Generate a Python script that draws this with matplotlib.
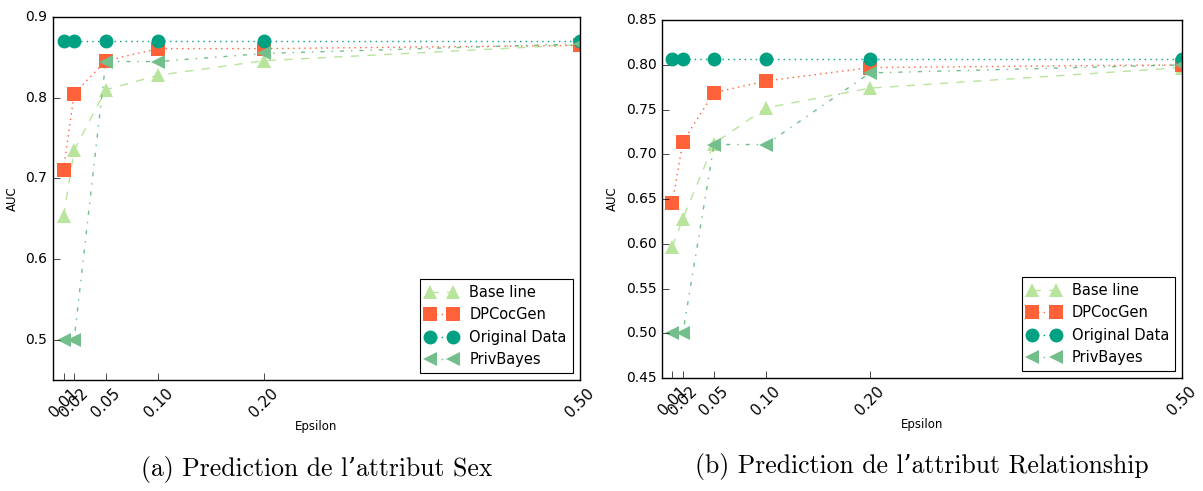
import numpy as np
import matplotlib.pyplot as plt

plt.style.use('classic')

epsilon = [0.01, 0.02, 0.05, 0.10, 0.20, 0.50]
eps_labels = ["0.01", "0.02", "0.05", "0.10", "0.20", "0.50"]

# Sex
sex_base = [0.653, 0.735, 0.810, 0.828, 0.846, 0.866]
sex_dpc = [0.711, 0.805, 0.846, 0.861, 0.861, 0.865]
sex_orig = [0.870, 0.870, 0.870, 0.870, 0.870, 0.870]
sex_priv = [0.500, 0.500, 0.845, 0.845, 0.855, 0.867]

# Relationship
rel_base = [0.597, 0.628, 0.712, 0.752, 0.774, 0.797]
rel_dpc = [0.646, 0.714, 0.769, 0.782, 0.797, 0.800]
rel_orig = [0.807, 0.807, 0.807, 0.807, 0.807, 0.807]
rel_priv = [0.500, 0.500, 0.711, 0.711, 0.791, 0.800]

names = ["Base line", "DPCocGen", "Original Data", "PrivBayes"]
colors = ["#b8e49c", "#ff6139", "#00a082", "#72bf8c"]
markers = ["^", "s", "o", "<"]
styles = ["--", ":", ":", "-."]

fig = plt.figure(figsize=(12.03, 4.91), dpi=100, facecolor='white')
ax1 = fig.add_axes([0.0441, 0.226, 0.438, 0.739])
ax2 = fig.add_axes([0.5503, 0.230, 0.4323, 0.729])

def draw(ax, series, ylim, yticks, yfmt, caption):
    for vals, n, c, m, ls in zip(series, names, colors, markers, styles):
        ax.plot(epsilon, vals, linestyle=ls, color=c, marker=m, markersize=10,
                markeredgewidth=0, markerfacecolor=c, linewidth=1, label=n)
    ax.set_xlim(0, 0.5)
    ax.set_ylim(*ylim)
    ax.set_xticks(epsilon)
    ax.set_xticklabels(eps_labels, rotation=45, fontsize=11)
    ax.set_yticks(yticks)
    ax.set_yticklabels([yfmt % t for t in yticks], fontsize=10)
    ax.tick_params(top=False, right=False, direction='in', length=5)
    ax.set_xlabel("Epsilon", fontsize=8.5, labelpad=0)
    ax.set_ylabel("AUC", fontsize=8.5)
    leg = ax.legend(loc='lower right', numpoints=2, fontsize=10.5, fancybox=False,
                    borderaxespad=0.5, handlelength=2.2)
    leg.get_frame().set_linewidth(0.8)
    ax.text(0.5, -0.21, caption, transform=ax.transAxes, ha='center', va='top',
            fontsize=18.5, family=['cmr10', 'DejaVu Serif'])

draw(ax1, [sex_base, sex_dpc, sex_orig, sex_priv], (0.45, 0.9),
     [0.5, 0.6, 0.7, 0.8, 0.9], "%.1f", "(a) Prediction de l\u2019attribut Sex")
draw(ax2, [rel_base, rel_dpc, rel_orig, rel_priv], (0.45, 0.85),
     np.arange(0.45, 0.851, 0.05), "%.2f", "(b) Prediction de l\u2019attribut Relationship")

fig.savefig("out.png", dpi=100, facecolor='white')
